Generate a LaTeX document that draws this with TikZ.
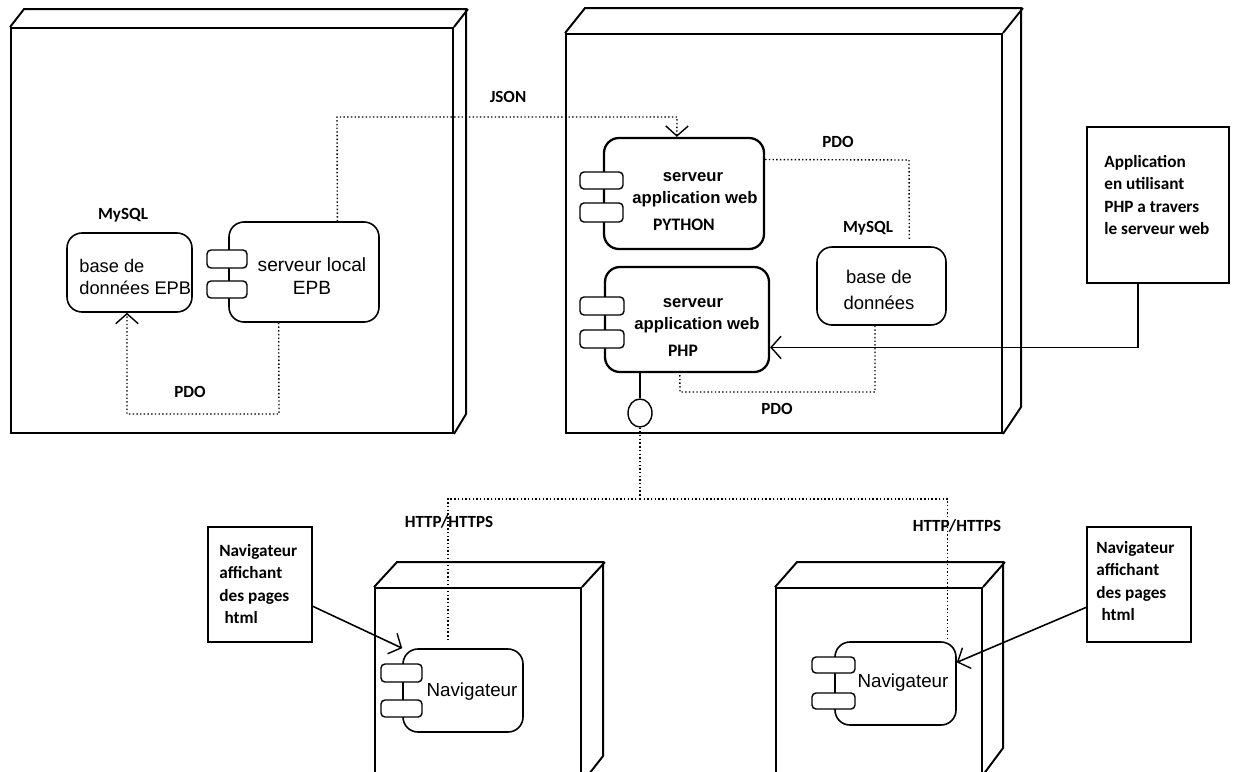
\documentclass[tikz,border=0pt]{standalone}
\usepackage{fontspec}
\setmainfont{Liberation Sans}
\newfontfamily\carl{Carlito}
\usetikzlibrary{fit,calc,arrows.meta,shapes.geometric}
\begin{document}
\begin{tikzpicture}[x=0.02cm,y=-0.02cm,
  nodebox/.style={draw, line width=1.1pt, inner sep=0pt},
  face/.style={draw, line width=1.1pt, line join=miter},
  comp/.style={draw, line width=0.9pt, rounded corners=0.3cm, inner sep=0pt},
  port/.style={draw, fill=white, line width=0.8pt, rounded corners=0.08cm, inner sep=0pt},
  lbl/.style={font=\carl\bfseries\fontsize{9.7}{12}\selectfont, inner sep=0pt},
  ctext/.style={inner sep=0pt, align=center},
  dep/.style={line width=0.8pt, dash pattern=on 0.8pt off 1.3pt},
  note/.style={draw, line width=1.1pt, fill=white, inner sep=0pt},
  ntext/.style={font=\carl\bfseries\fontsize{9.8}{12.6}\selectfont, align=left, inner sep=0pt, anchor=west},
  barb/.style={-{Straight Barb[length=0.2cm,width=0.45cm,line width=0.8pt]}}
]
\useasboundingbox (0,0) rectangle (1233,771);
\clip (0,0) rectangle (1233,771);

% ---- 3D deployment nodes ----
\node[nodebox, fit={(11,28) (453,433)}] (nL) {};
\draw[face] (nL.north west) -- ++(14,-18) -- ++(442,0) -- ++(0,405) -- (nL.south east);
\draw[face] (nL.north east) -- ++(14,-18);

\node[nodebox, fit={(566,34) (1002,433)}] (nR) {};
\draw[face] (nR.north west) -- ++(20,-25) -- ++(436,0) -- ++(0,399) -- (nR.south east);
\draw[face] (nR.north east) -- ++(20,-25);

\node[nodebox, fit={(375,588) (581,782)}] (nB1) {};
\draw[face] (nB1.north west) -- ++(23,-25) -- ++(206,0) -- ++(0,194) -- (nB1.south east);
\draw[face] (nB1.north east) -- ++(23,-25);

\node[nodebox, fit={(776,588) (982,774)}] (nB2) {};
\draw[face] (nB2.north west) -- ++(22,-25) -- ++(206,0) -- ++(0,186) -- (nB2.south east);
\draw[face] (nB2.north east) -- ++(22,-25);

% ---- components ----
\node[comp, fit={(67,233) (192,312)}] (dbL) {};
\node[comp, fit={(229,222) (379,322)}] (srv) {};
\node[port, fit={(207,250) (247,268)}] (srvp1) {};
\node[port, fit={(207,281) (247,298)}] (srvp2) {};

\node[comp, line width=1.3pt, fit={(604,138) (764,249)}] (py) {};
\node[port, fit={(580,172) (623,189)}] (pyp1) {};
\node[port, fit={(580,203) (623,222)}] (pyp2) {};

\node[comp, line width=1.3pt, fit={(605,267) (769,372)}] (php) {};
\node[port, fit={(580,297) (624,315)}] (phpp1) {};
\node[port, fit={(580,330) (624,348)}] (phpp2) {};

\node[comp, fit={(817,247) (946,325)}] (db2) {};

\node[comp, fit={(403,649) (523,732)}] (nav1) {};
\node[port, fit={(381,664) (422,682)}] (nav1p1) {};
\node[port, fit={(381,700) (422,717)}] (nav1p2) {};

\node[comp, fit={(835,642) (956,725)}] (nav2) {};
\node[port, fit={(812,657) (855,673)}] (nav2p1) {};
\node[port, fit={(812,693) (855,709)}] (nav2p2) {};

\node[draw, ellipse, line width=0.8pt, minimum width=0.48cm, minimum height=0.56cm, inner sep=0pt] (ifc) at (640,413) {};

% ---- notes ----
\node[note, fit={(208,527) (312,642)}] (n1) {};
\node[note, fit={(1087,527) (1191,642)}] (n2) {};
\node[note, fit={(1087,127) (1229,283)}] (app) {};

% ---- texts ----
\node[ctext, font=\fontsize{10.4}{13}\selectfont, anchor=west, align=left] (dbLt) at (79,277) {base de\\données EPB};
\node[ctext, font=\fontsize{10.9}{13}\selectfont] (srvt) at (312,276) {serveur local\\EPB};
\node[ctext, font=\bfseries\fontsize{9.5}{12}\selectfont] (pyt1) at (693,177) {serveur};
\node[ctext, font=\bfseries\fontsize{9.5}{12}\selectfont] (pyt2) at (695,199) {application web};
\node[ctext, font=\carl\bfseries\fontsize{10}{12}\selectfont] (pyt3) at (684,225) {PYTHON};
\node[ctext, font=\bfseries\fontsize{9.5}{12}\selectfont] (phpt1) at (693,303) {serveur};
\node[ctext, font=\bfseries\fontsize{9.5}{12}\selectfont] (phpt2) at (697,325) {application web};
\node[ctext, font=\carl\bfseries\fontsize{10}{12}\selectfont] (phpt3) at (683,351) {PHP};
\node[ctext, font=\fontsize{10.5}{14.7}\selectfont] (db2t) at (879,290) {base de\\données};
\node[ctext, font=\fontsize{10.7}{13}\selectfont] (nav1t) at (472,692) {Navigateur};
\node[ctext, font=\fontsize{10.7}{13}\selectfont] (nav2t) at (903,683) {Navigateur};

\node[lbl] (mysqlL) at (123,215) {MySQL};
\node[lbl] (json) at (508,97) {JSON};
\node[lbl] (pdoL) at (190,392) {PDO};
\node[lbl] (pdoT) at (838,142) {PDO};
\node[lbl] (mysqlR) at (868,228) {MySQL};
\node[lbl] (pdoB) at (777,409) {PDO};
\node[lbl] (http1) at (449,522) {HTTP/HTTPS};
\node[lbl] (http2) at (957,526) {HTTP/HTTPS};

\node[ntext] (n1t) at (219,584) {Navigateur\\affichant\\des pages\\\hspace*{3pt}html};
\node[ntext] (n2t) at (1096,581) {Navigateur\\affichant\\des pages\\\hspace*{3pt}html};
\node[ntext] (appt) at (1104,195) {Application\\en utilisant\\PHP a travers\\le serveur web};

% ---- connectors ----
\coordinate (pl1) at (279,414);
\coordinate (pl2) at (127,414);
\draw[dep, barb] ($(srv.south west)!0.333!(srv.south east)$) -- (pl1) -- (pl2) -- ($(dbL.south west)!0.48!(dbL.south east)$);

\coordinate (js1) at (337,117);
\coordinate (js2) at (677,117);
\draw[dep, barb] ($(srv.north west)!0.72!(srv.north east)$) -- (js1) -- (js2) -- ($(py.north west)!0.456!(py.north east)$);

\coordinate (pt1) at (909,160);
\draw[dep, shorten >=0.14cm] ($(py.north east)!0.2!(py.south east)$) -- (pt1) -- ($(db2.north west)!0.713!(db2.north east)$);

\coordinate (pb1) at (875,392);
\coordinate (pb2) at (680,392);
\draw[dep] ($(db2.south west)!0.45!(db2.south east)$) -- (pb1) -- (pb2) -- ($(php.south west)!0.457!(php.south east)$);

\draw[line width=0.8pt] (ifc.north |- php.south) -- (ifc.north);

\coordinate (j) at (640,499);
\draw[dep] (ifc.south) -- (j);
\draw[dep, shorten >=0.18cm] (j) -| ($(nav1.north west)!0.375!(nav1.north east)$);
\draw[dep] (j) -| ($(nav2.north west)!0.926!(nav2.north east)$);

\draw[line width=0.9pt, barb] ($(app.south west)!0.36!(app.south east)$) |- ($(php.north east)!0.76!(php.south east)$);
\draw[line width=0.9pt, barb] ($(n1.north east)!0.687!(n1.south east)$) -- (nav1.north west);
\draw[line width=0.9pt, barb] ($(n2.north west)!0.696!(n2.south west)$) -- ($(nav2.north east)!0.25!(nav2.south east)$);
\end{tikzpicture}
\end{document}
